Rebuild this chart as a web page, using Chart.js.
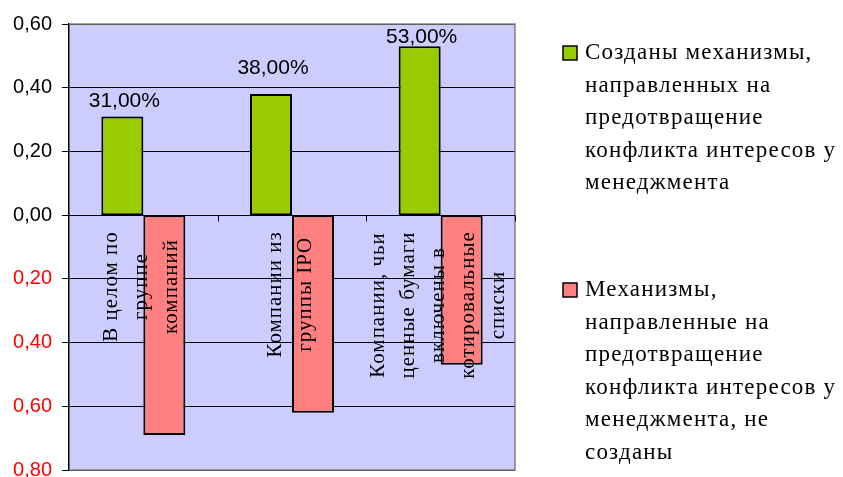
<html>
<head>
  <meta charset="utf-8">
  <script src="https://cdn.jsdelivr.net/npm/chart.js@4.4.0/dist/chart.umd.min.js"></script>
  <style>
    html, body { margin: 0; padding: 0; background: #fff; }
    #wrap { width: 843px; height: 477px; }
  </style>
</head>
<body>
  <div id="wrap"><canvas id="ctx" width="843" height="477"></canvas></div>

  <script>
    // categories (lines of the rotated labels)
    var categories = [
      ["В целом по", "группе", "компаний"],
      ["Компании из", "группы IPO"],
      ["Компании, чьи", "ценные бумаги", "включены в", "котировальные", "списки"]
    ];
    // series
    var createdValues = [0.31, 0.38, 0.53];
    var notCreatedValues = [-0.69, -0.62, -0.47];
    var createdName = ["Созданы механизмы,", "направленных на", "предотвращение", "конфликта интересов у", "менеджмента"];
    var notCreatedName = ["Механизмы,", "направленные на", "предотвращение", "конфликта интересов у", "менеджмента, не", "созданы"];
    // value axis
    var yMin = -0.8, yMax = 0.6, yStep = 0.2;

    var green = "#99CC00", red = "#FF8080";

    function fmt(v) {
      return Math.abs(v).toFixed(2).replace(".", ",");
    }

    // plot background + frame
    var framePlugin = {
      id: "frame",
      beforeDraw: function(chart) {
        var a = chart.chartArea, c = chart.ctx;
        c.save();
        c.fillStyle = "#CCCCFF";
        c.fillRect(a.left, a.top, a.right - a.left, a.bottom - a.top);
        c.restore();
      },
      beforeDatasetsDraw: function(chart) {
        var a = chart.chartArea, c = chart.ctx;
        var xs = chart.scales.x, ys = chart.scales.y;
        c.save();
        c.strokeStyle = "#808080";
        c.lineWidth = 1.5;
        c.beginPath();
        c.moveTo(a.left, a.top);
        c.lineTo(a.right, a.top);
        c.lineTo(a.right, a.bottom);
        c.lineTo(a.left, a.bottom);
        c.stroke();
        // category axis at zero with small ticks between categories
        var y0 = Math.round(ys.getPixelForValue(0)) + 0.5;
        c.strokeStyle = "#000";
        c.lineWidth = 1;
        c.beginPath();
        c.moveTo(a.left, y0);
        c.lineTo(a.right, y0);
        for (var i = 0; i < categories.length; i++) {
          var bx = Math.round(i < categories.length - 1
            ? (xs.getPixelForValue(i) + xs.getPixelForValue(i + 1)) / 2
            : a.right) + 0.5;
          c.moveTo(bx, y0);
          c.lineTo(bx, y0 + 6);
        }
        c.stroke();
        c.restore();
      }
    };

    // value labels, rotated category labels, legend
    var textPlugin = {
      id: "texts",
      afterDatasetsDraw: function(chart, args, opts) {
        var c = chart.ctx, a = chart.chartArea;
        var xs = chart.scales.x, ys = chart.scales.y;
        c.save();
        // value labels on the first series
        c.font = "21px 'Liberation Sans', Arial";
        c.fillStyle = "#000";
        c.textAlign = "center";
        c.textBaseline = "alphabetic";
        var meta = chart.getDatasetMeta(0);
        meta.data.forEach(function(bar, i) {
          var v = chart.data.datasets[0].data[i];
          c.fillText((v * 100).toFixed(2).replace(".", ",") + "%", bar.x + 2, bar.y - opts.labelGap[i]);
        });

        // category labels, rotated
        c.font = "21px 'Liberation Serif', 'Times New Roman'";
        c.letterSpacing = "1px";
        c.textBaseline = "middle";
        var zeroY = ys.getPixelForValue(0);
        categories.forEach(function(lines, i) {
          var w = 0;
          lines.forEach(function(l) { w = Math.max(w, c.measureText(l).width); });
          var cx = xs.getPixelForValue(i) - 2;
          var cy = zeroY + 16 + w / 2;
          c.save();
          c.translate(cx, cy);
          c.rotate(-Math.PI / 2);
          lines.forEach(function(l, k) {
            c.fillText(l, 0, (k - (lines.length - 1) / 2) * 30);
          });
          c.restore();
        });
        c.restore();
      },
      afterDraw: function(chart, args, opts) {
        var c = chart.ctx, a = chart.chartArea;
        c.save();
        c.font = "23px 'Liberation Serif', 'Times New Roman'";
        c.letterSpacing = "1.2px";
        c.textAlign = "left";
        c.textBaseline = "middle";
        var items = [
          { lines: createdName, color: green, top: 53 },
          { lines: notCreatedName, color: red, top: 290 }
        ];
        var mx = a.right + 48;
        items.forEach(function(it) {
          c.fillStyle = it.color;
          c.fillRect(mx, it.top - 7, 14, 14);
          c.strokeStyle = "#000";
          c.lineWidth = 1.5;
          c.strokeRect(mx, it.top - 7, 14, 14);
          c.fillStyle = "#000";
          it.lines.forEach(function(l, k) {
            c.fillText(l, mx + 22, it.top + k * 32.5);
          });
        });
        c.restore();
      }
    };

    var chart = new Chart(document.getElementById("ctx"), {
      type: "bar",
      data: {
        labels: categories.map(function(l) { return l.join(" "); }),
        datasets: [{
          label: createdName.join(" "),
          data: createdValues,
          backgroundColor: green,
          borderColor: "#000",
          borderWidth: 2,
          borderSkipped: false,
          barPercentage: 1.0,
          categoryPercentage: 0.565
        }, {
          label: notCreatedName.join(" "),
          data: notCreatedValues,
          backgroundColor: red,
          borderColor: "#000",
          borderWidth: 2,
          borderSkipped: false,
          barPercentage: 1.0,
          categoryPercentage: 0.565
        }]
      },
      options: {
        responsive: false,
        animation: false,
        layout: { padding: { left: 0, top: 24, right: 328, bottom: 7 } },
        plugins: {
          legend: { display: false },
          tooltip: { enabled: false },
          texts: { labelGap: [9, 20, 3] }
        },
        scales: {
          x: { display: false },
          y: {
            min: yMin,
            max: yMax,
            ticks: {
              stepSize: yStep,
              padding: 10,
              font: { family: "'Liberation Sans', Arial", size: 20 },
              color: function(ctx) { return ctx.tick.value < -1e-9 ? "#FF0000" : "#000"; },
              callback: function(v) { return fmt(v); }
            },
            grid: { color: "#000", lineWidth: 1, tickLength: 7, tickColor: "#000" },
            border: { color: "#000", width: 1.5 },
            afterFit: function(scale) {
              scale.width = 69;
              scale.paddingTop = 0;
              scale.paddingBottom = 0;
            }
          }
        }
      },
      plugins: [framePlugin, textPlugin]
    });
  </script>
</body>
</html>
